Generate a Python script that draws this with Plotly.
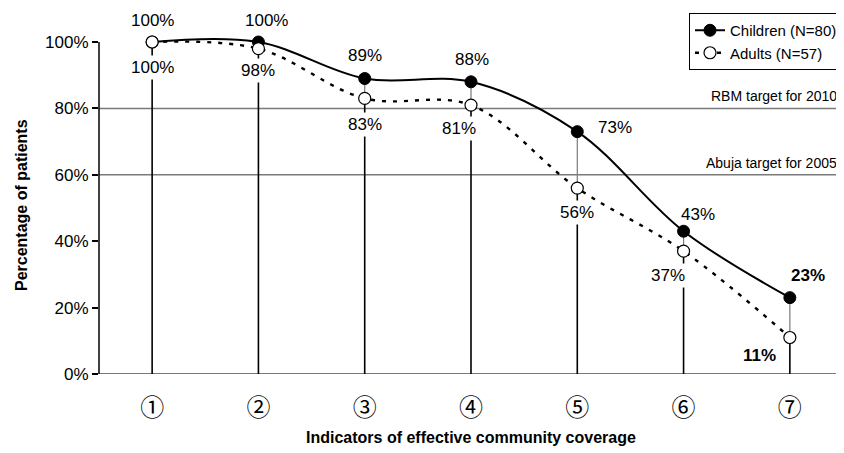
import plotly.graph_objects as go

# ---- data ----
indicators = [1, 2, 3, 4, 5, 6, 7]
indicator_labels = ["①", "②", "③", "④", "⑤", "⑥", "⑦"]
children = [100, 100, 89, 88, 73, 43, 23]
adults = [100, 98, 83, 81, 56, 37, 11]
children_name = "Children (N=80)"
adults_name = "Adults (N=57)"
targets = [80, 60]
target_labels = ["RBM target for 2010", "Abuja target for 2005"]
y_ticks = [0, 20, 40, 60, 80, 100]
y_ticktext = ["0%", "20%", "40%", "60%", "80%", "100%"]

# ---- label styling (offsets in px) ----
child_off = [(0, 22), (8, 22), (0, 23), (1, 22), (38, 4), (14, 17), (18, 22)]
adult_off = [(0, -25), (0, -22), (0, -26), (-12, -23), (0, -24), (-16, -24), (-30, -18)]
bold_idx = [6]

FONT = "Liberation Sans, Arial, sans-serif"
GRAY = "#7a7a7a"

# page has an 8px body margin: figure is shifted by 8px
W, H = 836, 445
ML, MR, MT, MB = 91, 1, 20, 79
PH = H - MT - MB
YTOP = 100 + (34 - MT) / 3.32


def py(fy):
    return (H - MB - fy) / PH


fig = go.Figure()

fig.add_trace(go.Scatter(
    x=indicators, y=children, name=children_name, mode="lines+markers",
    line=dict(color="black", width=2, shape="spline", smoothing=1),
    marker=dict(color="black", size=12, line=dict(color="black", width=1)),
    cliponaxis=False,
))
fig.add_trace(go.Scatter(
    x=indicators, y=adults, name=adults_name, mode="lines+markers",
    line=dict(color="black", width=2.4, shape="spline", smoothing=1, dash="4px,7px"),
    marker=dict(color="white", size=12, line=dict(color="black", width=1.2)),
    cliponaxis=False,
))

shapes = []
# y axis line from 0 to 100 only
shapes.append(dict(type="line", xref="paper", yref="y", x0=0, x1=0, y0=0, y1=100,
                   line=dict(color="black", width=1.5), layer="above"))
for xi, c, a in zip(indicators, children, adults):
    shapes.append(dict(type="line", xref="x", yref="y", x0=xi, x1=xi, y0=0, y1=a,
                       line=dict(color="black", width=1.6), layer="below"))
    shapes.append(dict(type="line", xref="x", yref="y", x0=xi, x1=xi, y0=a, y1=c,
                       line=dict(color=GRAY, width=1.2), layer="below"))
for t in targets:
    shapes.append(dict(type="line", xref="paper", yref="y", x0=0, x1=1, y0=t, y1=t,
                       line=dict(color=GRAY, width=1.5), layer="below"))
shapes.append(dict(type="line", xref="paper", yref="y", x0=0, x1=1, y0=0, y1=0,
                   line=dict(color=GRAY, width=2), layer="below"))

annotations = []
for i, (xi, c, a) in enumerate(zip(indicators, children, adults)):
    b = i in bold_idx
    ct = f"<b>{c}%</b>" if b else f"{c}%"
    at = f"<b>{a}%</b>" if b else f"{a}%"
    annotations.append(dict(x=xi, y=c, xref="x", yref="y", text=ct, showarrow=False,
                            xshift=child_off[i][0], yshift=child_off[i][1],
                            font=dict(size=17, color="black", family=FONT)))
    annotations.append(dict(x=xi, y=a, xref="x", yref="y", text=at, showarrow=False,
                            xshift=adult_off[i][0], yshift=adult_off[i][1],
                            bgcolor="white", borderpad=2,
                            font=dict(size=17, color="black", family=FONT)))
for t, lab in zip(targets, target_labels):
    annotations.append(dict(x=1, y=t, xref="paper", yref="y", text=lab, showarrow=False,
                            xanchor="right", yanchor="bottom", xshift=-4, yshift=2,
                            font=dict(size=14, color="black", family=FONT)))
annotations.append(dict(x=0.5, y=py(430), xref="paper", yref="paper",
                        text="<b>Indicators of effective community coverage</b>",
                        showarrow=False, xanchor="center", yanchor="middle",
                        font=dict(size=16, color="black", family=FONT)))
annotations.append(dict(x=(13 - ML) / (W - ML - MR), y=py(197), xref="paper", yref="paper",
                        text="<b>Percentage of patients</b>", textangle=-90,
                        showarrow=False, xanchor="center", yanchor="middle",
                        font=dict(size=16, color="black", family=FONT)))

fig.update_layout(
    width=W, height=H,
    margin=dict(l=ML, r=MR, t=MT, b=MB),
    paper_bgcolor="white", plot_bgcolor="white",
    font=dict(family=FONT, color="black"),
    shapes=shapes, annotations=annotations,
    showlegend=True,
    legend=dict(x=1, xanchor="right", y=py(5), yanchor="top",
                bordercolor="black", borderwidth=1, bgcolor="white",
                font=dict(size=15, color="black", family=FONT),
                tracegroupgap=0, itemwidth=30),
)
fig.update_xaxes(range=[0.5, 7.5], tickvals=indicators, ticktext=indicator_labels,
                 showgrid=False, zeroline=False, showline=False,
                 ticks="", ticklabelstandoff=17,
                 tickfont=dict(size=24, color="black", family="Noto Sans CJK JP"))
fig.update_yaxes(range=[0, YTOP], tickvals=y_ticks, ticktext=y_ticktext,
                 showgrid=False, zeroline=False, showline=False,
                 ticks="outside", ticklen=6, tickcolor="black", tickwidth=1.5,
                 tickfont=dict(size=17, color="black", family=FONT))

fig.write_html("out.html")
